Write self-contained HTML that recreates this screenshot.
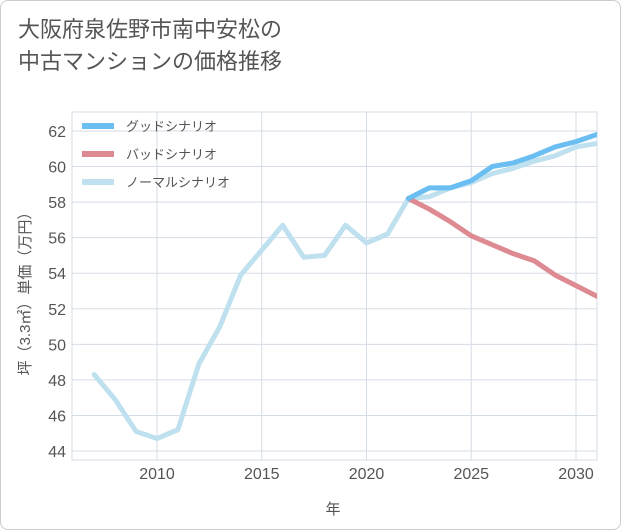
<!DOCTYPE html>
<html><head><meta charset="utf-8"><style>
body{margin:0;background:#fff;font-family:"Liberation Sans","Noto Sans CJK JP",sans-serif;}
.card{position:absolute;left:0;top:0;width:619px;height:528px;border:1px solid #ccc;border-radius:8px;background:#fff;}
.title{position:absolute;left:18px;top:14px;font-size:22px;line-height:32px;color:#555;}
</style></head><body>
<div class="card"></div>
<div class="title">大阪府泉佐野市南中安松の<br>中古マンションの価格推移</div>
<svg width="621" height="530" style="position:absolute;left:0;top:0" id="chart">
<g id="grid"></g><g id="axes"></g><g id="series"></g><g id="legend"></g>
<text x="333" y="514" font-size="15" fill="#555" text-anchor="middle">年</text>
<text transform="translate(30,290) rotate(-90)" font-size="15" fill="#555" text-anchor="middle">坪（3.3㎡）単価（万円）</text>
</svg>
<script>
const years=[2007,2008,2009,2010,2011,2012,2013,2014,2015,2016,2017,2018,2019,2020,2021,2022,2023,2024,2025,2026,2027,2028,2029,2030,2031];
const normal=[48.3,46.9,45.1,44.7,45.2,48.9,51.0,53.9,55.3,56.7,54.9,55.0,56.7,55.7,56.2,58.2,58.3,58.8,59.1,59.6,59.9,60.3,60.6,61.1,61.3];
const futureYears=[2022,2023,2024,2025,2026,2027,2028,2029,2030,2031];
const good=[58.2,58.8,58.8,59.2,60.0,60.2,60.6,61.1,61.4,61.8];
const bad=[58.2,57.6,56.9,56.1,55.6,55.1,54.7,53.9,53.3,52.7];
const yTicks=[44,46,48,50,52,54,56,58,60,62];
const xTicks=[2010,2015,2020,2025,2030];
const L=72,R=597,T=112,B=460;
const x=v=>157+(v-2010)*20.95;
const y=v=>451-(v-44)*17.78;
const NS='http://www.w3.org/2000/svg';
function mk(tag,parent,attrs){const e=document.createElementNS(NS,tag);for(const k in attrs)e.setAttribute(k,attrs[k]);parent.appendChild(e);return e;}
const grid=document.getElementById('grid'),axes=document.getElementById('axes'),series=document.getElementById('series'),legend=document.getElementById('legend');
mk('rect',grid,{x:L,y:T,width:R-L,height:B-T,fill:'none',stroke:'#d5dde6'});
yTicks.forEach(v=>{const l=mk('line',grid,{x1:L,x2:R,y1:y(v),y2:y(v),stroke:'#d5dde6'});

const t=mk('text',axes,{x:66,y:y(v)+6,'font-size':16,fill:'#555','text-anchor':'end'});t.textContent=v;
});
xTicks.forEach(v=>{const l=mk('line',grid,{x1:x(v),x2:x(v),y1:T,y2:B,stroke:'#d5dde6'});

const t=mk('text',axes,{x:x(v),y:479,'font-size':16,fill:'#555','text-anchor':'middle'});t.textContent=v;
});
mk('clipPath',series,{id:'cp'}).appendChild(document.createElementNS(NS,'rect'));
const cr=document.querySelector('#cp rect');cr.setAttribute('x',L);cr.setAttribute('y',T);cr.setAttribute('width',R-L);cr.setAttribute('height',B-T);
function line(xs,vs,color,name){const p=mk('polyline',series,{points:xs.map((a,i)=>x(a)+','+y(vs[i])).join(' '),fill:'none',stroke:color,'stroke-width':5,'stroke-linejoin':'round','stroke-linecap':'round','clip-path':'url(#cp)'});
}
line(years,normal,'#bfe0ef','normal-scenario-line');
line(futureYears,bad,'#de8a92','bad-scenario-line');
line(futureYears,good,'#6bbef2','good-scenario-line');
[['グッドシナリオ','#6bbef2'],['バッドシナリオ','#de8a92'],['ノーマルシナリオ','#bfe0ef']].forEach((d,i)=>{
const yy=126+i*28;
const l=mk('line',legend,{x1:82,x2:114,y1:yy,y2:yy,stroke:d[1],'stroke-width':6});

const t=mk('text',legend,{x:126,y:yy+5,'font-size':13,fill:'#555'});t.textContent=d[0];
});
</script>
</body></html>
